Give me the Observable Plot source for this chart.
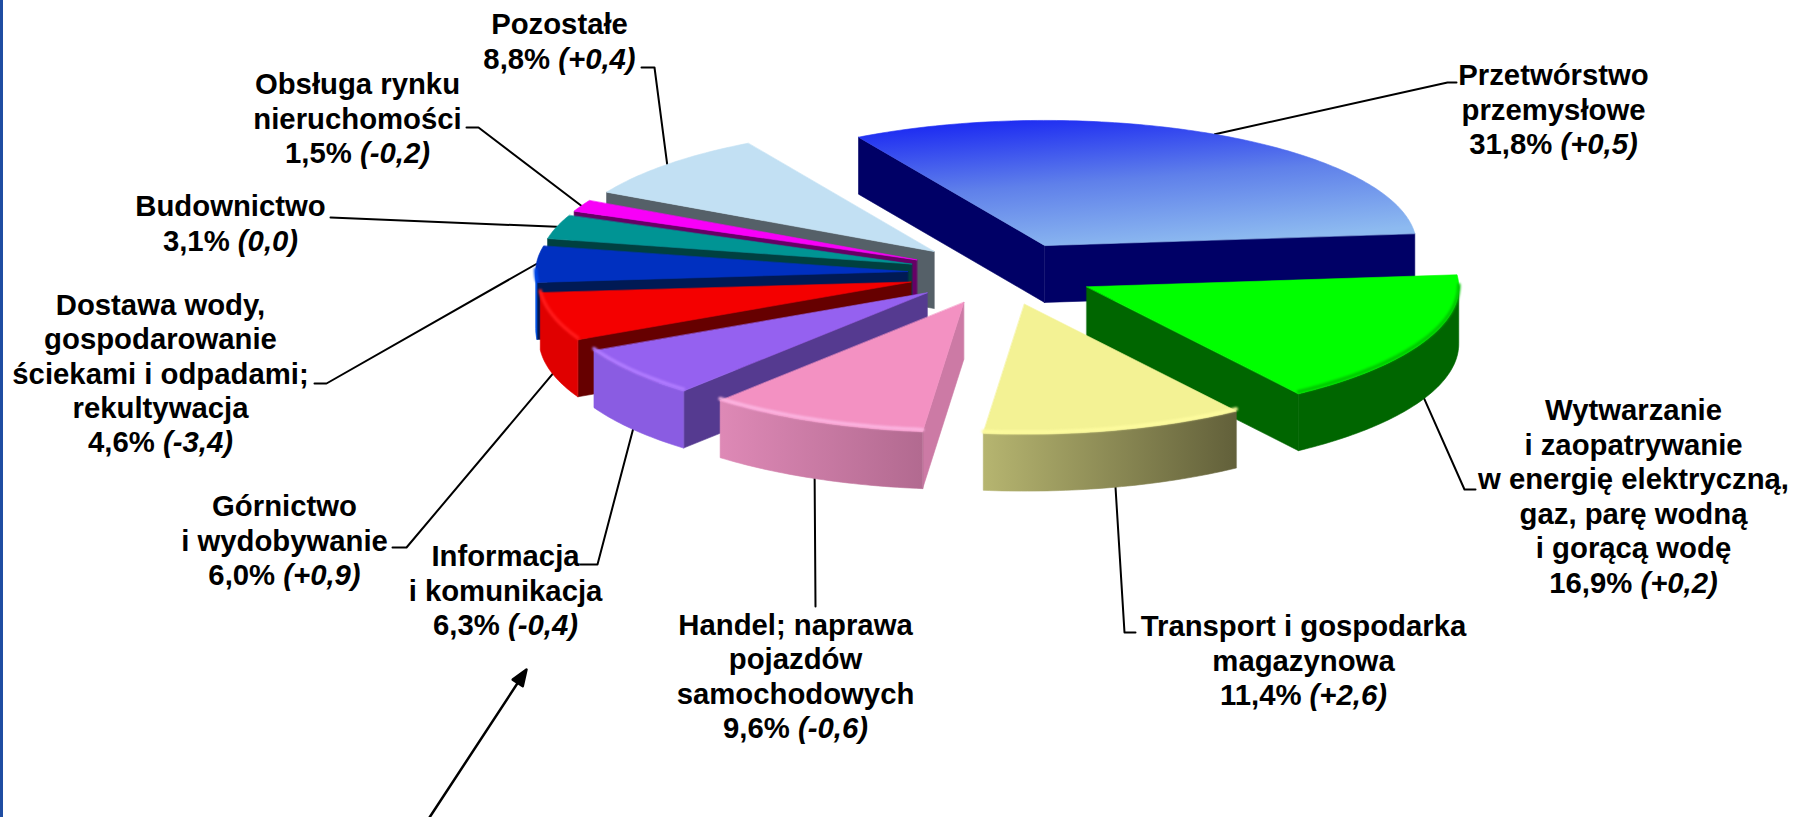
<!DOCTYPE html>
<html lang="pl">
<head>
<meta charset="utf-8">
<script src="https://cdn.jsdelivr.net/npm/d3@7"></script>
<script src="https://cdn.jsdelivr.net/npm/@observablehq/plot@0.6"></script>
<style>
html,body{margin:0;padding:0;overflow:hidden;background:linear-gradient(to right,#1f4da2 0,#1f4da2 3px,#fff 3px);}
svg{display:block;}
</style>
</head>
<body>
<div id="chart"></div>
<script>
// ---- data -------------------------------------------------------------
const sectors = [
  "Przetwórstwo\nprzemysłowe",
  "Wytwarzanie\ni zaopatrywanie\nw energię elektryczną,\ngaz, parę wodną\ni gorącą wodę",
  "Transport i gospodarka\nmagazynowa",
  "Handel; naprawa\npojazdów\nsamochodowych",
  "Informacja\ni komunikacja",
  "Górnictwo\ni wydobywanie",
  "Dostawa wody,\ngospodarowanie\nściekami i odpadami;\nrekultywacja",
  "Budownictwo",
  "Obsługa rynku\nnieruchomości",
  "Pozostałe"
];
const shares  = [31.8, 16.9, 11.4, 9.6, 6.3, 6.0, 4.6, 3.1, 1.5, 8.8];
const changes = ["+0,5", "+0,2", "+2,6", "-0,6", "-0,4", "+0,9", "-3,4", "0,0", "-0,2", "+0,4"];

// ---- styles -----------------------------------------------------------
const topFill  = ["url(#gBlue)", "#00ff00", "#f3f294", "#f391c2", "#9561f0", "#f40000", "#0030c0", "#009494", "#f800f8", "#c2e0f3"];
const wallFill = ["#000066", "#006600", "#6b6a3e", "#cc7aa5", "#553a90", "#660000", "#001a55", "#004040", "#660066", "#556068"];
const rimFill  = ["#000066", "#006600", "url(#gYellow)", "url(#gPink)", "#8a5ce2", "#e00000", "#0050e0", "#007a7a", "#c000c0", "#a8c4d8"];
const bevel    = [null, "#00c800", "#fdfb9e", "#fbb4e0", "#b07cff", "#ff1a1a", "#0048e8", null, null, null];
const paintOrder = [0, 1, 9, 8, 7, 6, 5, 4, 3, 2];

// ---- layout of the labels and their leader lines ----------------------
const labelPos = [[1553,108],[1633,495],[1303,659],[795,675],[505,589],[284,539],[160,372],[230,222],[357,117],[559,40]];
const leaderBends = [
  [[1447,82],[1456,82]],
  [[1464,489],[1475,489]],
  [[1124,632],[1135,632]],
  [[815,606]],
  [[597,564],[580,564]],
  [[406,547],[392,547]],
  [[326,383],[314,383]],
  [[330,217]],
  [[478,127],[466,127]],
  [[654,67],[641,67]]
];
const geom = {cx:1001, cy:273, rx:372, ry:125, ryFront:130, explode:94, depth:57, start:-30};
const FONT = "'Liberation Sans', Arial, sans-serif";

// ---- pie geometry, derived from the shares ----------------------------
const rad = d => d * Math.PI / 180;
const arcs = d3.pie().sort(null).value(d => d)
  .startAngle(rad(geom.start)).endAngle(rad(geom.start + 360))(shares);

const slices = arcs.map((a, i) => {
  const mid = (a.startAngle + a.endAngle) / 2;
  const ax = geom.cx + geom.explode * Math.sin(mid);
  const ay = geom.cy - geom.explode * (geom.ry / geom.rx) * Math.cos(mid);
  const on = (t, dz = 0) => {
    const c = Math.cos(t);
    return {x: ax + geom.rx * Math.sin(t), y: ay - (c < 0 ? geom.ryFront : geom.ry) * c + dz};
  };
  return {i, a0: a.startAngle, a1: a.endAngle, mid, ax, ay, on};
});
function arcPts(s, t0, t1, dz = 0) {
  const n = Math.max(2, Math.ceil((t1 - t0) / rad(1)));
  return d3.range(n + 1).map(k => s.on(t0 + (t1 - t0) * k / n, dz));
}
const poly = (pts, fill, extra = {}) =>
  Plot.line(pts, {x: "x", y: "y", curve: "linear-closed", fill, stroke: fill, strokeWidth: 0.6, ...extra});
const blur = (px) => (index, scales, values, dim, ctx, next) => {
  const g = next(index, scales, values, dim, ctx);
  g.setAttribute("style", `filter:blur(${px}px)`);
  return g;
};

const pieMarks = [];
for (const i of paintOrder) {
  const s = slices[i];
  const apex = {x: s.ax, y: s.ay};
  const apexLow = {x: s.ax, y: s.ay + geom.depth};
  // flat cut walls facing the viewer
  const wall = t => {
    const p = s.on(t), q = s.on(t, geom.depth);
    return [apex, p, q, apexLow];
  };
  if (Math.cos(s.a0 - Math.PI / 2) < 0) pieMarks.push(poly(wall(s.a0), wallFill[i]));
  if (Math.cos(s.a1 + Math.PI / 2) < 0) pieMarks.push(poly(wall(s.a1), wallFill[i]));
  // curved rim, front half of the ellipse only
  const norm = t => ((t % (2 * Math.PI)) + 2 * Math.PI) % (2 * Math.PI);
  const t0 = Math.max(norm(s.a0), Math.PI / 2);
  const t1 = Math.min(norm(s.a0) + (s.a1 - s.a0), 3 * Math.PI / 2);
  if (t1 > t0) {
    pieMarks.push(poly([...arcPts(s, t0, t1), ...arcPts(s, t0, t1, geom.depth).reverse()], rimFill[i]));
  }
  // top face
  pieMarks.push(poly([apex, ...arcPts(s, s.a0, s.a1)], topFill[i]));
  // soft highlight along the front edge
  if (bevel[i] && t1 > t0) {
    pieMarks.push(Plot.line(arcPts(s, t0, t1, -2), {x: "x", y: "y", stroke: bevel[i], strokeWidth: 3.5, render: blur(0.9)}));
  }
}

// ---- leaders and labels ----------------------------------------------
const leaderMarks = slices.map(s => {
  const anchor = s.on(s.mid, Math.cos(s.mid) < 0 ? geom.depth : 0);
  const pts = [anchor, ...leaderBends[s.i].map(([x, y]) => ({x, y}))];
  return Plot.line(pts, {x: "x", y: "y", stroke: "#000", strokeWidth: 2});
});

const fmt = v => v.toFixed(1).replace(".", ",");
const labels = sectors.map((name, i) => ({
  text: `${name}\n${fmt(shares[i])}% (${changes[i]})`,
  x: labelPos[i][0], y: labelPos[i][1]
}));

// ---- the arrow pointing up at the Informacja label --------------------
const pointer = {x1: 429, y1: 817, x2: 526, y2: 669};
const pointerLen = Math.hypot(pointer.x2 - pointer.x1, pointer.y2 - pointer.y1);
const pointerRot = Math.atan2(pointer.x2 - pointer.x1, pointer.y1 - pointer.y2) * 180 / Math.PI;
const pointerShape = {
  draw(c, l) {
    c.moveTo(0, 0); c.lineTo(0, -l + 12);
    c.moveTo(0, -l); c.lineTo(6, -l + 16); c.lineTo(-6, -l + 16); c.closePath();
  }
};

const defsMark = () => {
  const defs = d3.create("svg:defs");
  const grad = (id, attrs, stops) => {
    const g = defs.append("linearGradient").attr("id", id);
    Object.entries(attrs).forEach(([k, v]) => g.attr(k, v));
    stops.forEach(([o, c]) => g.append("stop").attr("offset", o).attr("stop-color", c));
  };
  grad("gBlue", {x1: 0.22, y1: 0, x2: 0.55, y2: 1}, [[0, "#1c2af2"], [0.5, "#5f80ea"], [1, "#8dbaf0"]]);
  grad("gYellow", {x1: 0, y1: 0, x2: 1, y2: 0}, [[0, "#b6b570"], [1, "#62603a"]]);
  grad("gPink", {x1: 0, y1: 0, x2: 1, y2: 0}, [[0, "#de89b6"], [1, "#b26a90"]]);
  return defs.node();
};

const chart = Plot.plot({
  width: 1793, height: 817,
  margin: 0,
  x: {type: "identity", axis: null},
  y: {type: "identity", axis: null},
  style: {background: "transparent"},
  marks: [
    defsMark,
    ...leaderMarks,
    ...pieMarks,
    Plot.vector([pointer], {
      x: "x1", y: "y1", anchor: "start", length: pointerLen, rotate: pointerRot,
      shape: pointerShape, stroke: "#000", fill: "#000", strokeWidth: 2.5
    }),
    Plot.text(labels, {
      x: "x", y: "y", text: "text", textAnchor: "middle", lineAnchor: "middle",
      fontFamily: FONT, fontWeight: "bold", fontSize: 29.3, lineHeight: 1.176, fill: "#000"
    })
  ]
});

// the change in parentheses is set in italics
chart.querySelectorAll("text tspan, text").forEach(node => {
  if (node.children.length) return;
  const m = /^(.*% )(\(.*\))$/.exec(node.textContent);
  if (!m) return;
  node.textContent = m[1];
  const it = document.createElementNS("http://www.w3.org/2000/svg", "tspan");
  it.setAttribute("font-style", "italic");
  it.textContent = m[2];
  node.appendChild(it);
});
document.getElementById("chart").appendChild(chart);
</script>
</body>
</html>
